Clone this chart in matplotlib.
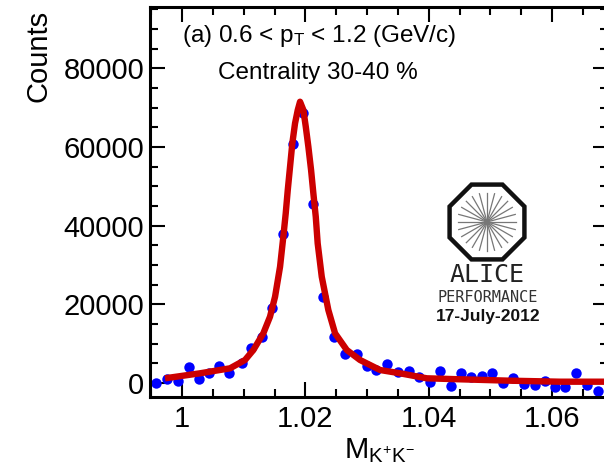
import numpy as np
import matplotlib
matplotlib.use('Agg')
import matplotlib.pyplot as plt
from matplotlib.patches import RegularPolygon
from matplotlib.ticker import MultipleLocator, FuncFormatter

plt.rcParams['font.family'] = ['Liberation Sans', 'DejaVu Sans']
plt.rcParams['mathtext.fontset'] = 'custom'
plt.rcParams['mathtext.rm'] = 'Liberation Sans'
plt.rcParams['mathtext.it'] = 'Liberation Sans'

# invariant mass points (GeV/c^2) and counts
mass = [0.99578, 0.99762, 0.99930, 1.00109, 1.00271, 1.00438, 1.00605, 1.00767,
        1.00968, 1.01119, 1.01298, 1.01465, 1.01633, 1.01796, 1.01968, 1.02130,
        1.02292, 1.02470, 1.02639, 1.02834, 1.02996, 1.03147, 1.03330, 1.03499,
        1.03677, 1.03839, 1.04023, 1.04185, 1.04359, 1.04521, 1.04688, 1.04866,
        1.05029, 1.05212, 1.05374, 1.05548, 1.05721, 1.05888, 1.06055, 1.06217,
        1.06391, 1.06565, 1.06743]
counts = [76, 940, 584, 4142, 1093, 2465, 4396, 2617,
          5158, 8817, 11765, 19134, 37861, 60730, 68530, 45484,
          21929, 11612, 7369, 7369, 4320, 3303, 4752, 2871,
          3049, 1601, 330, 3049, -762, 2617, 1601, 1779,
          2465, 76, 1194, -254, -508, 584, -1093, -1093,
          2465, -508, -1957]

# fit curve
fit_mass = [0.99724, 1.00292, 1.00779, 1.01022, 1.01157, 1.01319, 1.01427, 1.01509,
            1.01590, 1.01643, 1.01682, 1.01715, 1.01752, 1.01789, 1.01833, 1.01877,
            1.01914, 1.01968, 1.02007, 1.02049, 1.02093, 1.02130, 1.02169, 1.02200,
            1.02266, 1.02373, 1.02482, 1.02672, 1.02887, 1.03212, 1.03536, 1.03969,
            1.04509, 1.05320, 1.06131, 1.06877]
fit_counts = [1194, 2465, 3735, 5844, 8385, 12629, 16847, 21929,
              29552, 37175, 43121, 49041, 54962, 60908, 65990, 69369,
              71478, 69369, 65126, 60044, 54123, 48203, 42257, 35498,
              27011, 18549, 12629, 8385, 5844, 3303, 2465, 1194,
              940, 584, 330, 330]

fig = plt.figure(figsize=(6.04, 4.70), dpi=100)
ax = fig.add_axes([150/604, 73/470, 458/604, 390/470])

ax.plot(fit_mass, fit_counts, color='#cc0000', lw=4.6, solid_joinstyle='round',
        solid_capstyle='butt', zorder=3)
ax.plot(mass, counts, 'o', color='#0000ff', ms=7.5, mec='none', zorder=2)

ax.set_xlim(0.99481, 1.06908)
ax.set_ylim(-3558, 95553)
ax.xaxis.set_major_locator(MultipleLocator(0.02))
ax.xaxis.set_minor_locator(MultipleLocator(0.005))
ax.yaxis.set_major_locator(MultipleLocator(20000))
ax.yaxis.set_minor_locator(MultipleLocator(5000))
ax.xaxis.set_major_formatter(FuncFormatter(lambda v, p: '%g' % round(v, 3)))
ax.yaxis.set_major_formatter(FuncFormatter(lambda v, p: '%d' % v))
ax.tick_params(which='both', direction='in', top=True, right=True,
               labelsize=21, width=1.5)
ax.tick_params(which='major', length=11)
ax.tick_params(which='minor', length=6)
ax.tick_params(axis='x', pad=6)
ax.tick_params(axis='y', pad=4)
for s in ax.spines.values():
    s.set_linewidth(2.2)

# y label placed at the top left, like the original
fig.text(38/604, (470-55.5)/470, 'Counts', fontsize=21, rotation=90,
         ha='center', va='center')
ax.set_xlabel(r'$\mathrm{M}_{\mathrm{K}^{+}\mathrm{K}^{-}}$', fontsize=21, labelpad=2)

ax.text(0.069, 0.926, r'(a) 0.6 < $p_{\mathrm{T}}$ < 1.2 (GeV/c)', transform=ax.transAxes,
        fontsize=17.5, va='center', ha='left')
ax.text(0.148, 0.831, 'Centrality 30-40 %', transform=ax.transAxes,
        fontsize=17.5, va='center', ha='left')

# ALICE performance logo
lax = fig.add_axes([442/604, (470-267)/470, 90/604, 90/470])
lax.set_xlim(-1, 1)
lax.set_ylim(-1, 1)
lax.set_aspect('equal')
lax.axis('off')
lax.add_patch(RegularPolygon((0, 0), numVertices=8, radius=0.9, orientation=np.pi/8,
                             fill=False, ec='#111111', lw=3.2))
for a in np.arange(0, 360, 15):
    r = np.deg2rad(a)
    lax.plot([0, 0.65*np.cos(r)], [0, 0.65*np.sin(r)], color='#777777', lw=0.9)

fig.text(487/604, (470-275)/470, 'ALICE', family='DejaVu Sans Mono', fontsize=18,
         color='#222222', ha='center', va='center')
fig.text(488/604, (470-298)/470, 'PERFORMANCE', family='DejaVu Sans Mono', fontsize=11,
         color='#333333', ha='center', va='center')
fig.text(488/604, (470-317)/470, '17-July-2012', fontsize=12.5, fontweight='bold',
         color='#111111', ha='center', va='center')

fig.savefig('out.png', dpi=100)
